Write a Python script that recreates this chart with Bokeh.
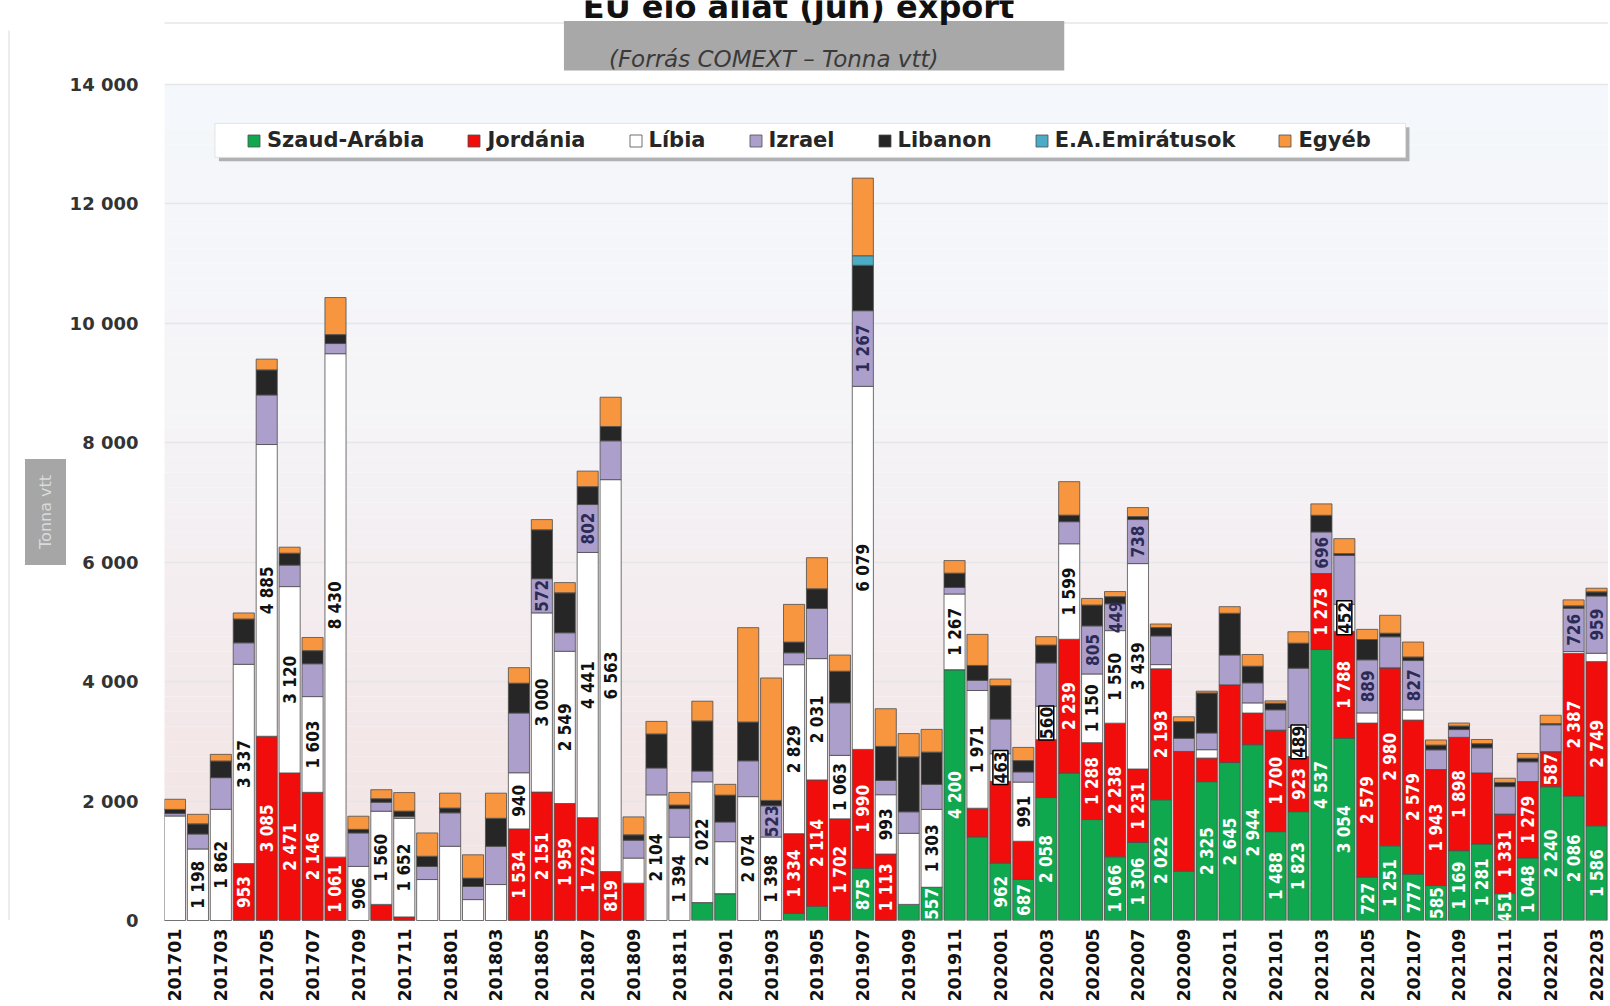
import math
from bokeh.plotting import figure
from bokeh.layouts import row
from bokeh.models import ColumnDataSource, Range1d, FixedTicker, Legend, LegendItem
from bokeh.core.properties import value
from bokeh.embed import file_html
from bokeh.resources import INLINE

# ---------------- data ----------------
months = [
    "201701", "201702", "201703", "201704", "201705", "201706", "201707", "201708", "201709", "201710", "201711", "201712",
    "201801", "201802", "201803", "201804", "201805", "201806", "201807", "201808", "201809", "201810", "201811", "201812",
    "201901", "201902", "201903", "201904", "201905", "201906", "201907", "201908", "201909", "201910", "201911", "201912",
    "202001", "202002", "202003", "202004", "202005", "202006", "202007", "202008", "202009", "202010", "202011", "202012",
    "202101", "202102", "202103", "202104", "202105", "202106", "202107", "202108", "202109", "202110", "202111", "202112",
    "202201", "202202", "202203",
]

szaud = [0, 0, 0, 0, 0, 0, 0, 0, 0, 0, 0, 0,
         0, 0, 0, 0, 0, 0, 0, 0, 0, 0, 0, 300,
         450, 0, 0, 120, 240, 0, 875, 0, 270, 557, 4200, 1400,
         962, 687, 2058, 2470, 1690, 1066, 1306, 2022, 825, 2325, 2645, 2944,
         1488, 1823, 4537, 3054, 727, 1251, 777, 585, 1169, 1281, 451, 1048,
         2240, 2086, 1586]
jordania = [0, 0, 0, 953, 3085, 2471, 2146, 1061, 0, 270, 60, 0,
            0, 0, 0, 1534, 2151, 1959, 1722, 819, 625, 0, 0, 0,
            0, 0, 0, 1334, 2114, 1702, 1990, 1113, 0, 0, 0, 480,
            1368, 640, 970, 2239, 1288, 2238, 1231, 2193, 2006, 395, 1300, 530,
            1700, 923, 1273, 1788, 2579, 2980, 2579, 1943, 1898, 1190, 1331, 1279,
            587, 2387, 2749]
libia = [1750, 1198, 1862, 3337, 4885, 3120, 1603, 8430, 906, 1560, 1652, 686,
         1243, 350, 602, 940, 3000, 2549, 4441, 6563, 420, 2104, 1394, 2022,
         870, 2074, 1398, 2829, 2031, 1063, 6079, 993, 1190, 1303, 1267, 1971,
         463, 991, 560, 1599, 1150, 1550, 3439, 70, 0, 140, 0, 170,
         0, 489, 0, 452, 170, 0, 170, 0, 0, 0, 0, 0,
         0, 30, 140]
izrael = [40, 250, 530, 360, 830, 360, 550, 170, 560, 150, 30, 220,
          560, 220, 640, 1000, 572, 310, 802, 650, 300, 450, 480, 180,
          330, 600, 523, 200, 840, 880, 1267, 240, 360, 420, 110, 170,
          580, 170, 725, 370, 805, 449, 738, 480, 220, 280, 500, 335,
          340, 990, 696, 820, 889, 520, 827, 330, 130, 420, 460, 330,
          450, 726, 959]
libanon = [70, 170, 280, 400, 420, 200, 220, 150, 60, 60, 90, 170,
           80, 140, 470, 500, 820, 670, 300, 240, 90, 570, 60, 840,
           450, 650, 90, 180, 330, 530, 760, 570, 920, 540, 240, 250,
           560, 190, 300, 110, 350, 120, 50, 140, 280, 670, 700, 280,
           110, 420, 280, 30, 340, 60, 60, 80, 60, 70, 70, 60,
           20, 40, 70]
eae = [0, 0, 0, 0, 0, 0, 0, 0, 0, 0, 0, 0,
       0, 0, 0, 0, 0, 0, 0, 0, 0, 0, 0, 0,
       0, 0, 0, 0, 0, 0, 160, 0, 0, 0, 0, 0,
       0, 0, 0, 0, 0, 0, 0, 0, 0, 0, 0, 0,
       0, 0, 0, 0, 0, 0, 0, 0, 0, 0, 0, 0,
       0, 0, 0]
egyeb = [170, 160, 110, 100, 180, 100, 220, 620, 220, 150, 310, 390,
         250, 390, 420, 260, 170, 170, 260, 490, 300, 210, 210, 330,
         180, 1580, 2050, 630, 520, 270, 1300, 630, 390, 380, 210, 520,
         110, 220, 140, 560, 110, 85, 150, 60, 80, 30, 110, 195,
         40, 190, 190, 250, 170, 300, 250, 85, 50, 70, 70, 80,
         140, 100, 60]

series_names = ["Szaud-Arábia", "Jordánia", "Líbia", "Izrael", "Libanon", "E.A.Emirátusok", "Egyéb"]
series_values = [szaud, jordania, libia, izrael, libanon, eae, egyeb]

# months whose segment carries a value label in the original
szaud_labeled = ["201907", "201910", "201911", "202001", "202002", "202003", "202006", "202007", "202008",
                 "202010", "202011", "202012", "202101", "202102", "202103", "202104", "202105", "202106",
                 "202107", "202108", "202109", "202110", "202111", "202112", "202201", "202202", "202203"]
jordania_labeled = ["201704", "201705", "201706", "201707", "201708", "201804", "201805", "201806", "201807",
                    "201808", "201904", "201905", "201906", "201907", "201908", "202004", "202005", "202006",
                    "202007", "202008", "202101", "202102", "202103", "202104", "202105", "202106", "202107",
                    "202108", "202109", "202111", "202112", "202201", "202202", "202203"]
libia_labeled = ["201702", "201703", "201704", "201705", "201706", "201707", "201708", "201709", "201710",
                 "201711", "201804", "201805", "201806", "201807", "201808", "201810", "201811", "201812",
                 "201902", "201903", "201904", "201905", "201906", "201907", "201908", "201910", "201911",
                 "201912", "202001", "202002", "202003", "202004", "202005", "202006", "202007", "202102",
                 "202104"]
izrael_labeled = ["201805", "201807", "201903", "201907", "202005", "202006", "202007", "202103", "202105",
                  "202107", "202202", "202203"]

y_ticks = [0, 2000, 4000, 6000, 8000, 10000, 12000, 14000]
tick_months = months[::2]

title_text = "EU élő állat (juh) export"
subtitle_text = "(Forrás COMEXT – Tonna vtt)"
y_title_text = "Tonna vtt"

# ---------------- styling ----------------
colors = ["#10a84f", "#f20d0d", "#ffffff", "#ad9fcb", "#262626", "#4bacc6", "#f7963f"]
label_colors = ["#ffffff", "#ffffff", "#111111", "#2b2b55"]
label_font = value("DejaVu Sans Condensed")

H = 1004
LEFT_W = 66
MAIN_W = 1608 - LEFT_W
FRAME_BOTTOM = 921          # canvas px of y = 0
PX_PER_UNIT_Y = 837 / 14000  # 14000 sits at canvas y = 84
Y_TOP = 14000 + 84 / PX_PER_UNIT_Y
X0 = -0.4577
PX_PER_X = 22.96
BORDER = "#e6e6e6"

def X(px):   # page px -> data x
    return X0 + (px - 162) / PX_PER_X

def Y(py):   # page px -> data y
    return (FRAME_BOTTOM - py) / PX_PER_UNIT_Y

# ---- left strip holding the grey "Tonna vtt" box ----
left = figure(width=LEFT_W, height=H, output_backend="svg", toolbar_location=None,
              x_range=Range1d(0, LEFT_W), y_range=Range1d(FRAME_BOTTOM, 0),
              min_border_left=0, min_border_right=0, min_border_top=0,
              min_border_bottom=H - FRAME_BOTTOM,
              background_fill_color="#ffffff", border_fill_color="#ffffff")
left.outline_line_color = None
left.axis.visible = False
left.grid.visible = False
left.segment(x0=[8.5], y0=[30], x1=[8.5], y1=[FRAME_BOTTOM], line_color=BORDER, line_width=1.5)
left.quad(left=[24.5], right=[65.5], top=[459], bottom=[565], fill_color="#a6a6a6", line_color=None)
left.text(x=[45], y=[512], text=[y_title_text], angle=math.pi / 2, text_align="center",
          text_baseline="middle", text_font=value("DejaVu Sans"), text_font_size="16px",
          text_color="#dadada")

# ---- main chart ----
p = figure(width=MAIN_W, height=H, output_backend="svg", toolbar_location=None,
           x_range=Range1d(X0, X0 + (1608 - 162) / PX_PER_X), y_range=Range1d(0, Y_TOP),
           min_border_left=162 - LEFT_W, min_border_right=0, min_border_top=0,
           min_border_bottom=H - FRAME_BOTTOM,
           background_fill_color="#ffffff", border_fill_color="#ffffff")
p.outline_line_color = None

# soft vertical background gradient (blue-white top -> pinkish bottom)
stops = [(0, (242, 228, 229)), (3000, (243, 231, 232)), (6000, (244, 238, 241)),
         (9000, (245, 245, 248)), (14000, (244, 247, 251))]
def grad(yv):
    for (y0, c0), (y1, c1) in zip(stops[:-1], stops[1:]):
        if y0 <= yv <= y1:
            t = (yv - y0) / (y1 - y0)
            return "#%02x%02x%02x" % tuple(int(round(a + (b - a) * t)) for a, b in zip(c0, c1))
    return "#%02x%02x%02x" % stops[-1][1]
band_b = list(range(0, 14000, 250))
bg = p.quad(left=-1, right=64, bottom=band_b, top=[b + 250 for b in band_b],
            fill_color=[grad(b + 125) for b in band_b], line_color=None)
bg.level = "image"

# faint outer chart border along the top
p.segment(x0=[X(150)], y0=[Y(22.5)], x1=[X(1610)], y1=[Y(22.5)], line_color=BORDER, line_width=1.5)

xs = list(range(len(months)))
data = {"x": xs, "month": months}
for n, v in zip(series_names, series_values):
    data[n] = v
src = ColumnDataSource(data)

rs = p.vbar_stack(series_names, x="x", width=0.92, source=src, fill_color=colors,
                  line_color="#4d4d4d", line_width=1, line_alpha=0.8)

# value labels
labeled_sets = [szaud_labeled, jordania_labeled, libia_labeled, izrael_labeled]
for si in range(4):
    lx, ly, lt, bx, by, bt = [], [], [], [], [], []
    for i, m in enumerate(months):
        if m not in labeled_sets[si]:
            continue
        base = sum(series_values[k][i] for k in range(si))
        v = series_values[si][i]
        txt = f"{v:,}".replace(",", " ")
        if si == 2 and v < 600:
            bx.append(i); by.append(base + v / 2); bt.append(txt)
        else:
            lx.append(i); ly.append(base + v / 2); lt.append(txt)
    p.text(x=lx, y=ly, text=lt, angle=math.pi / 2, text_align="center", text_baseline="middle",
           text_font=label_font, text_font_size="17px", text_font_style="bold",
           text_color=label_colors[si])
    if bx:
        p.text(x=bx, y=by, text=bt, angle=math.pi / 2, text_align="center", text_baseline="middle",
               text_font=label_font, text_font_size="17px", text_font_style="bold",
               text_color=label_colors[si], background_fill_color="#ffffff",
               border_line_color="#000000", border_line_width=1.5, padding=1)

# title and subtitle (inside the tall frame, above the 14 000 line)
p.quad(left=[X(562)], right=[X(1063)], top=[Y(20.5)], bottom=[Y(70)],
       fill_color="#a8a8a8", line_color=None)
p.text(x=[X(797)], y=[Y(6.5)], text=[title_text], text_align="center", text_baseline="alphabetic",
       text_font=value("DejaVu Sans"), text_font_style="bold", text_font_size="32px",
       text_color="#111111")
p.text(x=[X(772)], y=[Y(59)], text=[subtitle_text], text_align="center", text_baseline="alphabetic",
       text_font=value("DejaVu Sans"), text_font_style="italic", text_font_size="23px",
       text_color="#3a3a3a")

# legend box with shadow
p.quad(left=[X(216.5)], right=[X(1408.7)], top=[Y(127)], bottom=[Y(161)],
       fill_color="#9a9a9a", fill_alpha=0.75, line_color=None)
p.quad(left=[X(212.5)], right=[X(1404.7)], top=[Y(123)], bottom=[Y(157)],
       fill_color="#ffffff", line_color="#e2e2e2")

# axes
p.xaxis.ticker = FixedTicker(ticks=xs[::2])
p.xaxis.major_label_overrides = {i: m for i, m in zip(xs[::2], tick_months)}
p.xaxis.major_label_orientation = math.pi / 2
p.xaxis.major_label_text_font = "DejaVu Sans"
p.xaxis.major_label_text_font_style = "bold"
p.xaxis.major_label_text_font_size = "17.5px"
p.xaxis.major_label_text_color = "#111111"
p.xaxis.major_label_standoff = 8
p.xaxis.axis_line_color = None
p.xaxis.major_tick_line_color = None
p.xaxis.minor_tick_line_color = None
p.xaxis.major_tick_out = 0

p.yaxis.ticker = FixedTicker(ticks=y_ticks)
p.yaxis.major_label_overrides = {t: f"{t:,}".replace(",", " ") for t in y_ticks}
p.yaxis.major_label_text_font = "DejaVu Sans"
p.yaxis.major_label_text_font_style = "bold"
p.yaxis.major_label_text_font_size = "18px"
p.yaxis.major_label_text_color = "#333333"
p.yaxis.major_label_standoff = 26
p.yaxis.axis_line_color = None
p.yaxis.major_tick_line_color = None
p.yaxis.minor_tick_line_color = None
p.yaxis.major_tick_out = 0

p.xgrid.grid_line_color = None
p.ygrid.ticker = FixedTicker(ticks=y_ticks)
p.ygrid.grid_line_color = "#e4e6ea"
p.ygrid.grid_line_width = 1.5

legend = Legend(items=[LegendItem(label=n, renderers=[r]) for n, r in zip(series_names, rs)],
                orientation="horizontal", location=(82, 768),
                label_text_font="DejaVu Sans", label_text_font_style="bold",
                label_text_font_size="21px", label_text_color="#262626",
                glyph_width=15, glyph_height=15, label_standoff=6, spacing=42,
                padding=7, margin=0, background_fill_alpha=0, border_line_color=None)
p.add_layout(legend, "center")

layout = row(left, p, spacing=0)
open("out.html", "w").write(file_html(layout, INLINE))
